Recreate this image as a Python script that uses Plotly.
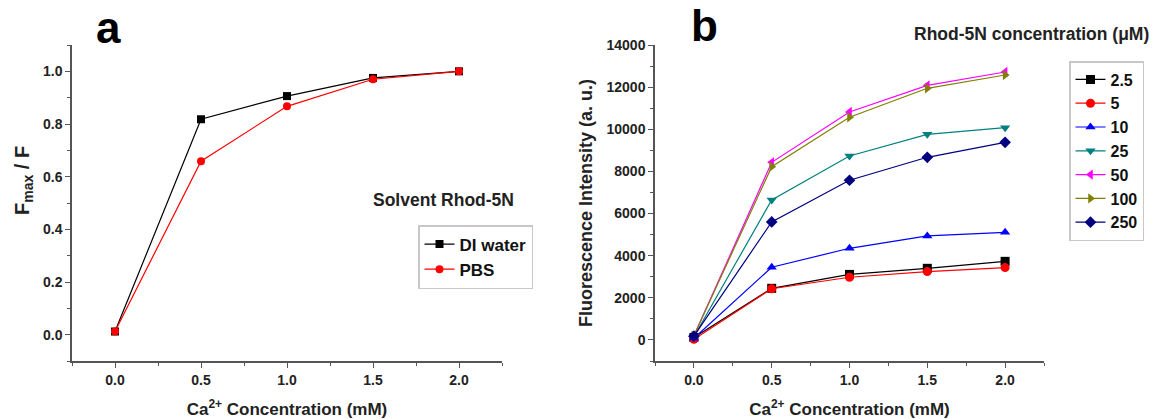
import plotly.graph_objects as go

# ---- data ----
ca_conc = [0.0, 0.5, 1.0, 1.5, 2.0]

# panel a: Fmax/F
a_series_names = ["DI water", "PBS"]
a_di_water = [0.012, 0.818, 0.906, 0.975, 1.0]
a_pbs = [0.012, 0.659, 0.867, 0.970, 1.0]

# panel b: fluorescence intensity (a.u.) per Rhod-5N concentration (uM)
b_series_names = ["2.5", "5", "10", "25", "50", "100", "250"]
b_2_5 = [120, 2450, 3110, 3400, 3730]
b_5 = [30, 2430, 2975, 3245, 3435]
b_10 = [80, 3450, 4350, 4935, 5110]
b_25 = [150, 6645, 8730, 9760, 10075]
b_50 = [200, 8430, 10820, 12085, 12720]
b_100 = [200, 8225, 10570, 11945, 12575]
b_250 = [180, 5600, 7580, 8670, 9380]

a_values = [a_di_water, a_pbs]
b_values = [b_2_5, b_5, b_10, b_25, b_50, b_100, b_250]

a_colors = ["#000000", "#FF0000"]
a_symbols = ["square", "circle"]
b_colors = ["#000000", "#FF0000", "#0000FF", "#008080", "#FF00FF", "#808000", "#000080"]
b_symbols = ["square", "circle", "triangle-up", "triangle-down", "triangle-left", "triangle-right", "diamond"]

FONT = "Liberation Sans, Arial, sans-serif"
W, H = 1155, 419

fig = go.Figure()

for name, vals, c, s in zip(a_series_names, a_values, a_colors, a_symbols):
    fig.add_trace(go.Scatter(x=ca_conc, y=vals, name=name, mode="lines+markers",
                             line=dict(color=c, width=1.2),
                             marker=dict(color=c, symbol=s, size=8),
                             xaxis="x", yaxis="y", legend="legend"))

for name, vals, c, s in zip(b_series_names, b_values, b_colors, b_symbols):
    fig.add_trace(go.Scatter(x=ca_conc, y=vals, name=name, mode="lines+markers",
                             line=dict(color=c, width=1.2),
                             marker=dict(color=c, symbol=s, size=9),
                             xaxis="x2", yaxis="y2", legend="legend2"))

def px_x(p):
    return p / W

def px_y(p):
    return 1 - p / H

axis_common = dict(
    showline=True, linecolor="#555555", linewidth=1.5, mirror=False,
    ticks="outside", ticklen=5, tickwidth=1.2, tickcolor="#555555",
    showgrid=False, zeroline=False, automargin=False,
    tickfont=dict(family=FONT, size=14, color="#222222", weight="bold"),
)

xt = dict(
    range=[-0.25, 2.25], tickvals=[0.0, 0.5, 1.0, 1.5, 2.0],
    ticktext=["0.0", "0.5", "1.0", "1.5", "2.0"],
    minor=dict(dtick=0.25, tick0=0, ticks="outside", ticklen=3, tickcolor="#555555", tickwidth=1),
    title=dict(text="Ca<sup>2+</sup> Concentration (mM)", standoff=17,
               font=dict(family=FONT, size=17, color="#222222", weight="bold")),
)

fig.update_layout(
    width=W, height=H, autosize=False,
    margin=dict(l=0, r=0, t=0, b=0, autoexpand=False),
    paper_bgcolor="white", plot_bgcolor="white",
    font=dict(family=FONT, color="#222222"),
    xaxis=dict(domain=[px_x(72), px_x(502)], anchor="y", **xt, **axis_common),
    yaxis=dict(domain=[px_y(361), px_y(45)], anchor="x", range=[-0.1, 1.1],
               tickvals=[0.0, 0.2, 0.4, 0.6, 0.8, 1.0],
               ticktext=["0.0", "0.2", "0.4", "0.6", "0.8", "1.0"],
               minor=dict(dtick=0.1, tick0=0, ticks="outside", ticklen=3, tickcolor="#555555", tickwidth=1),
               **axis_common),
    xaxis2=dict(domain=[px_x(655), px_x(1044)], anchor="y2", **xt, **axis_common),
    yaxis2=dict(domain=[px_y(361), px_y(45)], anchor="x2", range=[-1000, 14000],
                tickvals=[0, 2000, 4000, 6000, 8000, 10000, 12000, 14000],
                ticktext=["0", "2000", "4000", "6000", "8000", "10000", "12000", "14000"],
                minor=dict(dtick=1000, tick0=0, ticks="outside", ticklen=3, tickcolor="#555555", tickwidth=1),
                title=dict(text="Fluorescence Intensity (a. u.)", standoff=9,
                           font=dict(family=FONT, size=18, color="#222222", weight="bold")),
                **axis_common),
    legend=dict(x=px_x(418), y=px_y(225), xanchor="left", yanchor="top",
                bgcolor="white", bordercolor="#c8c8c8", borderwidth=1.5,
                font=dict(family=FONT, size=17, color="#111111", weight="bold"),
                tracegroupgap=0, itemwidth=30),
    legend2=dict(x=px_x(1069), y=px_y(61), xanchor="left", yanchor="top",
                 bgcolor="white", bordercolor="#c8c8c8", borderwidth=1.5,
                 font=dict(family=FONT, size=16, color="#111111", weight="bold"),
                 tracegroupgap=0, itemwidth=30),
    showlegend=True,
    annotations=[
        dict(text="a", x=px_x(108), y=px_y(27), xref="paper", yref="paper",
             showarrow=False, xanchor="center", yanchor="middle",
             font=dict(family=FONT, size=44, color="black", weight="bold")),
        dict(text="b", x=px_x(704), y=px_y(26), xref="paper", yref="paper",
             showarrow=False, xanchor="center", yanchor="middle",
             font=dict(family=FONT, size=44, color="black", weight="bold")),
        dict(text="F<sub>max</sub> / F", x=px_x(23), y=px_y(181), xref="paper", yref="paper",
             showarrow=False, xanchor="center", yanchor="middle", textangle=-90,
             font=dict(family=FONT, size=20, color="#222222", weight="bold")),
        dict(text="Solvent Rhod-5N", x=px_x(371), y=px_y(200), xref="paper", yref="paper",
             showarrow=False, xanchor="left", yanchor="middle",
             font=dict(family=FONT, size=17.5, color="#222222", weight="bold")),
        dict(text="Rhod-5N concentration (\u03bcM)", x=px_x(912), y=px_y(34), xref="paper", yref="paper",
             showarrow=False, xanchor="left", yanchor="middle",
             font=dict(family=FONT, size=17.5, color="#222222", weight="bold")),
    ],
)

fig.write_html("out.html")
